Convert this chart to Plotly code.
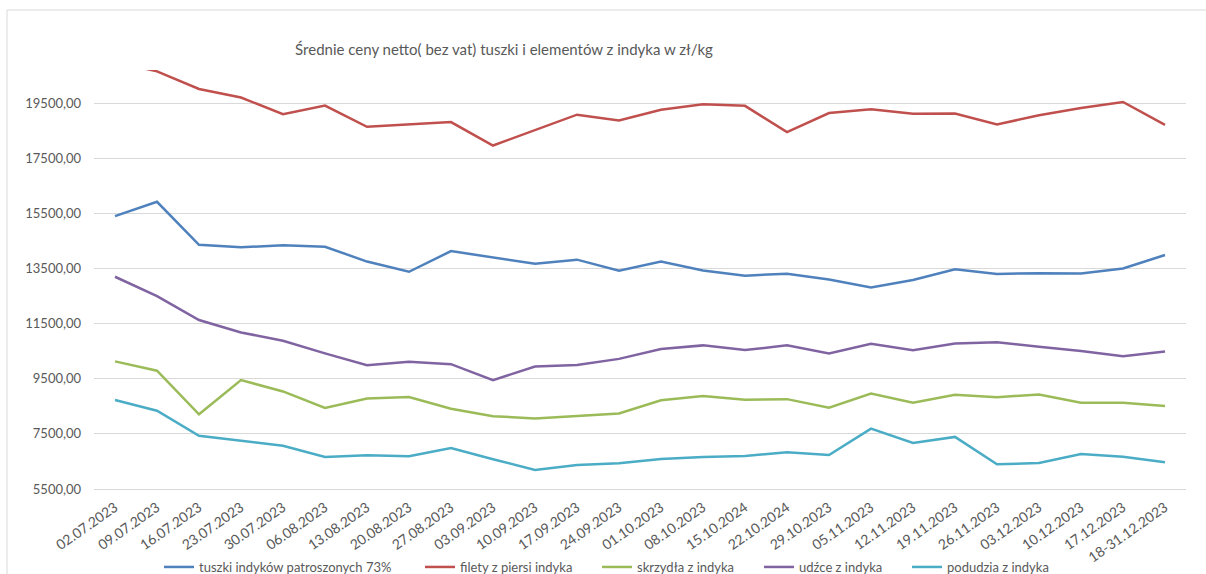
import plotly.graph_objects as go

categories = ["02.07.2023", "09.07.2023", "16.07.2023", "23.07.2023", "30.07.2023", "06.08.2023",
              "13.08.2023", "20.08.2023", "27.08.2023", "03.09.2023", "10.09.2023", "17.09.2023",
              "24.09.2023", "01.10.2023", "08.10.2023", "15.10.2024", "22.10.2024", "29.10.2023",
              "05.11.2023", "12.11.2023", "19.11.2023", "26.11.2023", "03.12.2023", "10.12.2023",
              "17.12.2023", "18-31.12.2023"]

tuszki = [15400, 15920, 14360, 14270, 14340, 14290, 13750, 13380, 14130, 13890, 13670, 13820, 13420,
          13750, 13430, 13240, 13310, 13100, 12810, 13080, 13470, 13300, 13330, 13320, 13500, 13990]
filety = [21000, 20650, 20010, 19700, 19100, 19410, 18640, 18720, 18810, 17960, 18510, 19080, 18870,
          19260, 19460, 19400, 18450, 19140, 19280, 19110, 19120, 18720, 19060, 19320, 19540, 18710]
skrzydla = [10130, 9790, 8210, 9450, 9040, 8440, 8780, 8840, 8410, 8140, 8060, 8150, 8240,
            8720, 8870, 8740, 8760, 8450, 8960, 8630, 8920, 8830, 8930, 8630, 8630, 8510]
udzce = [13200, 12500, 11630, 11180, 10880, 10420, 9990, 10120, 10030, 9450, 9940, 10000, 10220,
         10580, 10710, 10540, 10710, 10420, 10770, 10530, 10780, 10820, 10660, 10510, 10320, 10490]
podudzia = [8730, 8340, 7430, 7240, 7070, 6660, 6720, 6690, 6990, 6580, 6190, 6370, 6430,
            6590, 6660, 6700, 6830, 6730, 7690, 7170, 7390, 6400, 6440, 6770, 6670, 6470]

series_names = ["tuszki indyków patroszonych 73%", "filety z piersi indyka", "skrzydła z indyka",
                "udźce z indyka", "podudzia z indyka"]
series_values = [tuszki, filety, skrzydla, udzce, podudzia]
series_colors = ["#4F81BD", "#C0504D", "#9BBB59", "#8064A2", "#4BACC6"]

y_tick_values = [5500, 7500, 9500, 11500, 13500, 15500, 17500, 19500]
y_tick_labels = ["5500,00", "7500,00", "9500,00", "11500,00", "13500,00", "15500,00", "17500,00", "19500,00"]

title_text = "Średnie ceny netto( bez vat) tuszki i elementów z indyka w zł/kg"

FONT = "Lato"
GREY = "#595959"

legend_ids = ["legend", "legend2", "legend3", "legend4", "legend5"]
legend_text_x = [199, 460, 637, 799, 947]

fig = go.Figure()
for name, vals, col, lid in zip(series_names, series_values, series_colors, legend_ids):
    fig.add_trace(go.Scatter(x=categories, y=vals, mode="lines", name=name,
                             line=dict(color=col, width=2.5), legend=lid))

W, H = 1206, 574
ml, mr, mt, mb = 94, 20, 70, 85
pw = W - ml - mr
ph = H - mt - mb

def px_to_paper_x(px):
    return (px - ml) / pw

def px_to_paper_y(py):
    return (H - mb - py) / ph

layout_legends = {}
for lid, tx in zip(legend_ids, legend_text_x):
    layout_legends[lid] = dict(
        x=(tx - 40) / W, xref="container", xanchor="left",
        y=1 - 567 / H, yref="container", yanchor="middle",
        orientation="h", bgcolor="rgba(0,0,0,0)",
        font=dict(family=FONT, size=13, color=GREY),
        itemwidth=30, tracegroupgap=0,
    )

fig.update_layout(
    width=W, height=H,
    margin=dict(l=ml, r=mr, t=mt, b=mb),
    paper_bgcolor="white", plot_bgcolor="white",
    font=dict(family=FONT, color=GREY),
    title=dict(text=title_text, x=504 / W, xref="container", xanchor="center",
               y=1 - 50 / H, yref="container", yanchor="middle",
               font=dict(family=FONT, size=15, color=GREY)),
    showlegend=True,
    **layout_legends,
    shapes=[dict(type="rect", xref="paper", yref="paper",
                 x0=px_to_paper_x(7), x1=px_to_paper_x(1215),
                 y0=px_to_paper_y(590), y1=px_to_paper_y(10),
                 line=dict(color="#D9D9D9", width=1), fillcolor="rgba(0,0,0,0)", layer="below")],
)

fig.update_xaxes(type="category", range=[-0.5, len(categories) - 0.5],
                 tickangle=-35, tickfont=dict(family=FONT, size=14, color=GREY),
                 showgrid=False, showline=True, linecolor="#D9D9D9", linewidth=1,
                 ticks="", ticklabelstandoff=4, automargin=False)
fig.update_yaxes(range=[5500, 20700], tickvals=y_tick_values, ticktext=y_tick_labels,
                 tickfont=dict(family=FONT, size=13, color=GREY),
                 showgrid=True, gridcolor="#D9D9D9", gridwidth=1, zeroline=False,
                 showline=False, ticks="", ticklabelstandoff=12, automargin=False)

fig.write_html("out.html", config={"displayModeBar": False},
               post_script="document.body.style.margin='0';document.body.style.overflow='hidden';")
